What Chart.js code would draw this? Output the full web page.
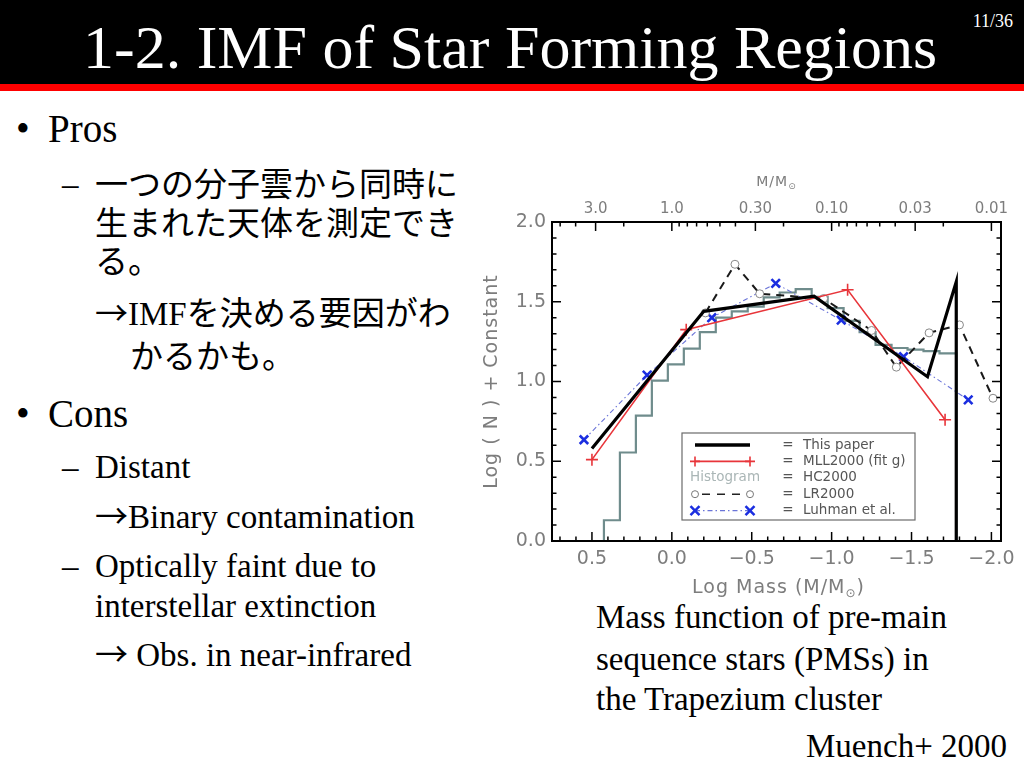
<!DOCTYPE html>
<html>
<head>
<meta charset="utf-8">
<script src="https://cdn.jsdelivr.net/npm/chart.js@4.4.1/dist/chart.umd.min.js"></script>
<style>
  html, body { margin: 0; padding: 0; background: #fff; }
  #slide { position: relative; width: 1024px; height: 768px; overflow: hidden; background: #fff; }
  #slide svg { position: absolute; left: 0; top: 0; }
  #chartBox { position: absolute; left: 470px; top: 160px; width: 550px; height: 450px; }
  .serif { font-family: "Liberation Serif", "Times New Roman", serif; }
  .jp { font-family: "Noto Sans CJK JP", sans-serif; }
</style>
</head>
<body>
<div id="slide">
  <svg width="1024" height="768">
    <rect x="0" y="0" width="1024" height="84" fill="#000"/>
    <rect x="0" y="84" width="1024" height="7" fill="#f00"/>
    <text class="serif" x="83" y="68" font-size="62" fill="#fff">1-2. IMF of Star Forming Regions</text>
    <text class="serif" x="1013" y="27" font-size="18" fill="#fff" text-anchor="end">11/36</text>

    <text class="serif" x="16" y="142" font-size="39">•</text>
    <text class="serif" x="48" y="142" font-size="39">Pros</text>
    <text class="serif" x="62" y="195" font-size="33">–</text>
    <text class="jp" x="95" y="196" font-size="33">一つの分子雲から同時に</text>
    <text class="jp" x="95" y="235" font-size="33">生まれた天体を測定でき</text>
    <text class="jp" x="95" y="273" font-size="33">る。</text>
    <text x="95" y="325" font-size="33"><tspan class="jp">→</tspan><tspan class="serif">IMF</tspan><tspan class="jp">を決める要因がわ</tspan></text>
    <text class="jp" x="130" y="368" font-size="33">かるかも。</text>

    <text class="serif" x="16" y="427" font-size="39">•</text>
    <text class="serif" x="48" y="427" font-size="39">Cons</text>
    <text class="serif" x="62" y="478" font-size="33">–</text>
    <text class="serif" x="95" y="478" font-size="33">Distant</text>
    <text x="95" y="528" font-size="33"><tspan class="jp">→</tspan><tspan class="serif">Binary contamination</tspan></text>
    <text class="serif" x="62" y="577" font-size="33">–</text>
    <text class="serif" x="95" y="577" font-size="33">Optically faint due to</text>
    <text class="serif" x="95" y="617" font-size="33">interstellar extinction</text>
    <text x="95" y="666" font-size="33"><tspan class="jp">→</tspan><tspan class="serif"> Obs. in near-infrared</tspan></text>

    <text class="serif" x="596" y="628" font-size="33">Mass function of pre-main</text>
    <text class="serif" x="596" y="670" font-size="33">sequence stars (PMSs) in</text>
    <text class="serif" x="596" y="710" font-size="33">the Trapezium cluster</text>
    <text class="serif" x="806" y="757" font-size="33">Muench+ 2000</text>
  </svg>
  <div id="chartBox"><canvas id="imfChart"></canvas></div>
</div>

<script>
// axis ranges (log mass runs right to left)
const xMin = -2.06;
const xMax = 0.75;
const yMin = 0;
const yMax = 2.0;

const xTickValues = [0.5, 0.0, -0.5, -1.0, -1.5, -2.0];
const yTickValues = [0.0, 0.5, 1.0, 1.5, 2.0];
const topTickMasses = [3.0, 1.0, 0.3, 0.1, 0.03, 0.01];
const topTickLabels = ["3.0", "1.0", "0.30", "0.10", "0.03", "0.01"];

// This paper
const thisPaperX = [0.5, -0.2, -0.89, -1.6, -1.78, -1.78];
const thisPaperY = [0.58, 1.44, 1.535, 1.03, 1.625, 0.0];

// MLL2000 (fit g)
const mllX = [0.5, -0.09, -1.1, -1.71];
const mllY = [0.51, 1.325, 1.575, 0.76];

// LR2000
const lrX = [-0.21, -0.395, -0.55, -0.95, -1.25, -1.405, -1.61, -1.8, -2.01];
const lrY = [1.43, 1.735, 1.55, 1.52, 1.32, 1.09, 1.305, 1.355, 0.895];

// Luhman et al.
const luhmanX = [0.55, 0.155, -0.25, -0.65, -1.06, -1.45, -1.855];
const luhmanY = [0.635, 1.04, 1.40, 1.615, 1.385, 1.155, 0.885];

// HC2000 histogram: bin edges and bin heights
const histEdges = [0.425, 0.325, 0.225, 0.125, 0.025, -0.075, -0.175, -0.275, -0.375, -0.475, -0.575,
  -0.675, -0.775, -0.875, -0.975, -1.075, -1.175, -1.275, -1.375, -1.475, -1.575, -1.675, -1.78];
const histValues = [0.13, 0.555, 0.786, 1.006, 1.107, 1.206, 1.31, 1.40, 1.44, 1.47, 1.527,
  1.558, 1.579, 1.53, 1.46, 1.38, 1.31, 1.23, 1.21, 1.20, 1.19, 1.176];

const legendRows = ["This paper", "MLL2000 (fit g)", "HC2000", "LR2000", "Luhman et al."];

const plotFont = "DejaVu Sans";
const tickColor = "#7d7d7d";
const blackLine = "#000";
const redLine = "#e8353a";
const blueMark = "#1b2ee0";
const blueLine = "#6a74d8";
const histColor = "#6f8c8c";

function toPoints(xs, ys) {
  return xs.map((x, i) => ({ x: x, y: ys[i] }));
}

function histPoints() {
  const pts = [{ x: histEdges[0], y: 0 }];
  histValues.forEach((v, i) => pts.push({ x: histEdges[i], y: v }));
  pts.push({ x: histEdges[histEdges.length - 1], y: 0 });
  return pts;
}

function fmtTick(v) {
  return (v < -1e-9 ? "\u2212" : "") + Math.abs(v).toFixed(1);
}

function drawPlus(ctx, x, y, r) {
  ctx.beginPath();
  ctx.moveTo(x - r, y); ctx.lineTo(x + r, y);
  ctx.moveTo(x, y - r); ctx.lineTo(x, y + r);
  ctx.stroke();
}

function drawCross(ctx, x, y, r) {
  ctx.beginPath();
  ctx.moveTo(x - r, y - r); ctx.lineTo(x + r, y + r);
  ctx.moveTo(x - r, y + r); ctx.lineTo(x + r, y - r);
  ctx.stroke();
}

// inward ticks, frame, legend and axis titles in the old IDL look
const paperDecor = {
  id: "paperDecor",
  afterDatasetsDraw(chart) {
    const { ctx, chartArea: a, scales } = chart;
    const sx = scales.x, sx2 = scales.x2, sy = scales.y;
    const major = 9, minor = 4.5;
    ctx.save();
    ctx.strokeStyle = "#000";
    ctx.lineWidth = 1.5;
    ctx.beginPath();
    // bottom axis
    for (let k = 7; k >= -20; k--) {
      const v = k / 10;
      const px = sx.getPixelForValue(v);
      const len = k % 5 === 0 ? major : minor;
      ctx.moveTo(px, a.bottom); ctx.lineTo(px, a.bottom - len);
    }
    // top axis (mass, log ticks)
    [0.01, 0.1, 1].forEach((dec) => {
      for (let m = 1; m <= 9; m++) {
        const lv = Math.log10(m * dec);
        if (lv > xMax || lv < xMin) continue;
        const isMajor = topTickMasses.some((t) => Math.abs(Math.log10(t) - lv) < 1e-6);
        const px = sx2.getPixelForValue(lv);
        ctx.moveTo(px, a.top); ctx.lineTo(px, a.top + (isMajor ? major : minor));
      }
    });
    const px3 = sx2.getPixelForValue(Math.log10(3));
    ctx.moveTo(px3, a.top); ctx.lineTo(px3, a.top + major);
    // left and right axes
    for (let k = 0; k <= 20; k++) {
      const py = sy.getPixelForValue(k / 10);
      const len = k % 5 === 0 ? major : minor;
      ctx.moveTo(a.left, py); ctx.lineTo(a.left + len, py);
      ctx.moveTo(a.right, py); ctx.lineTo(a.right - len, py);
    }
    ctx.stroke();

    ctx.lineWidth = 2;
    ctx.strokeRect(a.left, a.top, a.right - a.left, a.bottom - a.top);

    // legend box
    const bx = a.left + 130, by = a.top + 211, bw = 233, bh = 87;
    ctx.fillStyle = "#fff";
    ctx.fillRect(bx, by, bw, bh);
    ctx.strokeStyle = "#6b6b6b";
    ctx.lineWidth = 1.2;
    ctx.strokeRect(bx, by, bw, bh);
    const x0 = bx + 13, x1 = bx + 68;
    const rowY = legendRows.map((_, i) => by + 12 + i * 16.4);

    ctx.strokeStyle = blackLine; ctx.lineWidth = 3.5;
    ctx.beginPath(); ctx.moveTo(x0, rowY[0]); ctx.lineTo(x1, rowY[0]); ctx.stroke();

    ctx.strokeStyle = redLine; ctx.lineWidth = 1.6;
    ctx.beginPath(); ctx.moveTo(x0, rowY[1]); ctx.lineTo(x1, rowY[1]); ctx.stroke();
    drawPlus(ctx, x0, rowY[1], 5); drawPlus(ctx, x1, rowY[1], 5);

    ctx.font = "13.5px '" + plotFont + "'";
    ctx.textBaseline = "middle";
    ctx.textAlign = "left";
    ctx.fillStyle = "#aab6b6";
    ctx.fillText("Histogram", bx + 8, rowY[2]);

    ctx.strokeStyle = "#222"; ctx.lineWidth = 1.5;
    ctx.setLineDash([8, 7]);
    ctx.beginPath(); ctx.moveTo(x0 + 7, rowY[3]); ctx.lineTo(x1 - 6, rowY[3]); ctx.stroke();
    ctx.setLineDash([]);
    ctx.strokeStyle = "#777"; ctx.lineWidth = 1;
    [x0, x1].forEach((cx) => { ctx.beginPath(); ctx.arc(cx, rowY[3], 3.5, 0, Math.PI * 2); ctx.stroke(); });

    ctx.strokeStyle = blueLine; ctx.lineWidth = 1.2;
    ctx.setLineDash([5, 3, 1.5, 3]);
    ctx.beginPath(); ctx.moveTo(x0, rowY[4]); ctx.lineTo(x1, rowY[4]); ctx.stroke();
    ctx.setLineDash([]);
    ctx.strokeStyle = blueMark; ctx.lineWidth = 2.5;
    drawCross(ctx, x0, rowY[4], 4.5); drawCross(ctx, x1, rowY[4], 4.5);

    ctx.fillStyle = "#555";
    legendRows.forEach((label, i) => {
      ctx.textAlign = "center";
      ctx.fillText("=", bx + 106, rowY[i]);
      ctx.textAlign = "left";
      ctx.fillText(label, bx + 121, rowY[i]);
    });
    ctx.restore();
  },
  afterDraw(chart) {
    const { ctx, chartArea: a } = chart;
    ctx.save();
    ctx.fillStyle = tickColor;
    ctx.textBaseline = "middle";
    // y title
    ctx.save();
    ctx.translate(a.left - 60, (a.top + a.bottom) / 2);
    ctx.rotate(-Math.PI / 2);
    ctx.textAlign = "center";
    ctx.font = "19px '" + plotFont + "'";
    ctx.letterSpacing = "1px";
    ctx.fillText("Log ( N ) + Constant", 0, 0);
    ctx.restore();
    // bottom and top titles with subscript sun symbol
    drawMassTitle(ctx, "Log Mass (M/M", ")", (a.left + a.right) / 2 + 2, a.bottom + 47, 19);
    drawMassTitle(ctx, "M/M", "", (a.left + a.right) / 2, a.top - 40, 14);
    ctx.restore();
  }
};

function drawMassTitle(ctx, head, tail, cx, cy, size) {
  ctx.save();
  ctx.font = size + "px '" + plotFont + "'";
  ctx.letterSpacing = "1px";
  const subSize = Math.round(size * 0.65);
  const wHead = ctx.measureText(head).width;
  const wTail = ctx.measureText(tail).width;
  ctx.font = subSize + "px '" + plotFont + "'";
  const wSub = ctx.measureText("\u2299").width;
  let x = cx - (wHead + wSub + wTail) / 2;
  ctx.textAlign = "left";
  ctx.textBaseline = "middle";
  ctx.font = size + "px '" + plotFont + "'";
  ctx.fillText(head, x, cy);
  x += wHead;
  ctx.font = subSize + "px '" + plotFont + "'";
  ctx.fillText("\u2299", x, cy + size * 0.3);
  x += wSub;
  ctx.font = size + "px '" + plotFont + "'";
  if (tail) ctx.fillText(tail, x, cy);
  ctx.restore();
}

function initImfChart() {
  const el = document.getElementById("imfChart");
  if (!el) return;

  new Chart(el, {
    type: "line",
    data: {
      datasets: [
        {
          label: "This paper",
          data: toPoints(thisPaperX, thisPaperY),
          borderColor: blackLine,
          borderWidth: 3.2,
          pointRadius: 0,
          order: 0,
        },
        {
          label: "MLL2000 (fit g)",
          data: toPoints(mllX, mllY),
          borderColor: redLine,
          borderWidth: 1.6,
          pointStyle: "cross",
          pointRadius: 6,
          pointBorderColor: redLine,
          pointBorderWidth: 1.6,
          order: 1,
        },
        {
          label: "LR2000",
          data: toPoints(lrX, lrY),
          borderColor: "#1a1a1a",
          borderWidth: 2,
          borderDash: [8, 6],
          pointStyle: "circle",
          pointRadius: 4,
          pointBackgroundColor: "#fff",
          pointBorderColor: "#888",
          pointBorderWidth: 1,
          order: 2,
        },
        {
          label: "Luhman et al.",
          data: toPoints(luhmanX, luhmanY),
          borderColor: blueLine,
          borderWidth: 1.1,
          borderDash: [5, 3, 1.5, 3],
          pointStyle: "crossRot",
          pointRadius: 6,
          pointBorderColor: blueMark,
          pointBorderWidth: 2.6,
          order: 3,
        },
        {
          label: "HC2000",
          data: histPoints(),
          borderColor: histColor,
          borderWidth: 2.2,
          stepped: true,
          pointRadius: 0,
          order: 4,
        },
      ],
    },
    options: {
      responsive: true,
      maintainAspectRatio: false,
      animation: false,
      layout: { padding: { left: 0, right: 19, top: 0, bottom: 0 } },
      plugins: {
        legend: { display: false },
        tooltip: { enabled: false },
      },
      scales: {
        x: {
          type: "linear",
          position: "bottom",
          reverse: true,
          min: xMin,
          max: xMax,
          grid: { display: false, drawTicks: false, tickLength: 0 },
          border: { display: false },
          ticks: {
            color: tickColor,
            font: { family: plotFont, size: 19 },
            padding: 7,
            maxRotation: 0,
            autoSkip: false,
            callback: (v) => fmtTick(v),
          },
          afterBuildTicks: (s) => { s.ticks = xTickValues.map((v) => ({ value: v })); },
          afterFit: (s) => { s.height = 69; s.paddingLeft = 0; s.paddingRight = 0; },
        },
        x2: {
          type: "linear",
          position: "top",
          reverse: true,
          min: xMin,
          max: xMax,
          grid: { display: false, drawTicks: false, tickLength: 0 },
          border: { display: false },
          ticks: {
            color: tickColor,
            font: { family: plotFont, size: 15 },
            padding: 4,
            maxRotation: 0,
            autoSkip: false,
            callback: (v, i) => topTickLabels[i],
          },
          afterBuildTicks: (s) => { s.ticks = topTickMasses.map((m) => ({ value: Math.log10(m) })); },
          afterFit: (s) => { s.height = 62; s.paddingLeft = 0; s.paddingRight = 0; },
        },
        y: {
          type: "linear",
          min: yMin,
          max: yMax,
          grid: { display: false, drawTicks: false, tickLength: 0 },
          border: { display: false },
          ticks: {
            color: tickColor,
            font: { family: plotFont, size: 19 },
            padding: 6,
            autoSkip: false,
            callback: (v) => fmtTick(v),
          },
          afterBuildTicks: (s) => { s.ticks = yTickValues.map((v) => ({ value: v })); },
          afterFit: (s) => { s.width = 82; s.paddingTop = 0; s.paddingBottom = 0; },
        },
      },
    },
    plugins: [paperDecor],
  });
}

document.addEventListener("DOMContentLoaded", initImfChart);
</script>
</body>
</html>
